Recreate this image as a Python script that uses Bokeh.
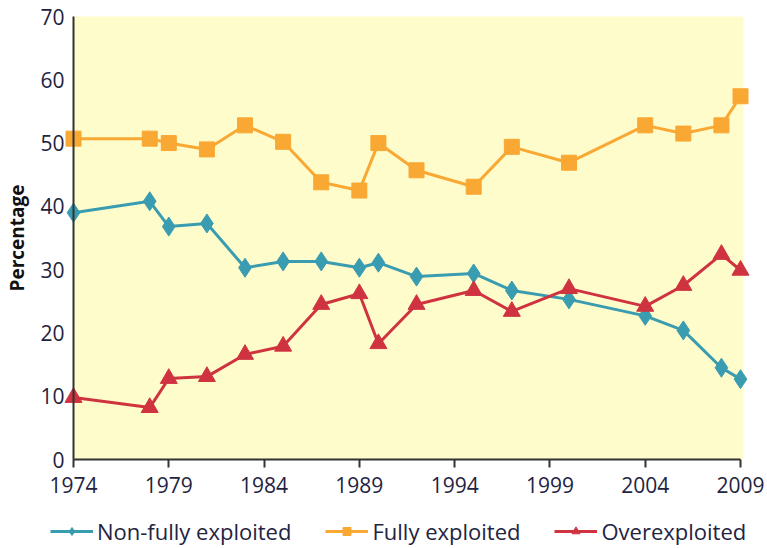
from bokeh.plotting import figure
from bokeh.models import Range1d, FixedTicker, Legend, LegendItem, BoxAnnotation
from bokeh.embed import file_html
from bokeh.resources import INLINE

years = [1974, 1978, 1979, 1981, 1983, 1985, 1987, 1989, 1990, 1992, 1995, 1997, 2000, 2004, 2006, 2008, 2009]
non_fully = [39.0, 40.8, 36.8, 37.3, 30.3, 31.3, 31.3, 30.3, 31.1, 28.9, 29.4, 26.7, 25.3, 22.7, 20.4, 14.5, 12.7]
fully = [50.7, 50.7, 50.0, 49.0, 52.8, 50.2, 43.8, 42.5, 50.0, 45.7, 43.1, 49.4, 46.9, 52.8, 51.5, 52.8, 57.4]
over = [9.8, 8.2, 12.8, 13.1, 16.6, 17.9, 24.5, 26.2, 18.3, 24.5, 26.7, 23.4, 27.0, 24.2, 27.5, 32.4, 29.9]
x_ticks = [1974, 1979, 1984, 1989, 1994, 1999, 2004, 2009]
y_ticks = [0, 10, 20, 30, 40, 50, 60, 70]
x_start, x_end = 1974, 2009
y_start, y_end = 0, 70

# layout (pixels): figure size and where the data box sits inside it
W, H = 767, 548
BOX_L, BOX_R, BOX_T, BOX_B = 73, 740, 16, 459
ppx = (BOX_R - BOX_L) / (x_end - x_start)
ppy = (BOX_B - BOX_T) / (y_end - y_start)
xr = Range1d(x_start - BOX_L / ppx, x_end + (W - BOX_R) / ppx)
yr = Range1d(y_start - (H - BOX_B) / ppy, y_end + BOX_T / ppy)

TEAL = "#3A9CB0"
ORANGE = "#F8A833"
RED = "#CF3340"
TXT = "#23233f"
AX = "#333333"
FONT = "Open Sans"

p = figure(width=W, height=H, output_backend="svg", toolbar_location=None,
           x_range=xr, y_range=yr,
           min_border_left=0, min_border_right=0, min_border_top=0, min_border_bottom=0)
p.background_fill_color = "white"
p.border_fill_color = "white"
p.outline_line_color = None
p.xgrid.visible = False
p.ygrid.visible = False

p.add_layout(BoxAnnotation(left=x_start, right=x_end + 0.16, bottom=y_start, top=y_end,
                           fill_color="#FFFCCB", fill_alpha=1, line_color=None, level="underlay"))

for ax in (p.xaxis[0], p.yaxis[0]):
    ax.major_label_text_font = FONT
    ax.major_label_text_font_size = "21px"
    ax.major_label_text_color = TXT
    ax.minor_tick_line_color = None
    ax.axis_line_color = AX
    ax.axis_line_width = 2

p.xaxis.ticker = FixedTicker(ticks=x_ticks)
p.xaxis.bounds = (x_start, x_end)
p.xaxis.fixed_location = y_start
p.xaxis.major_tick_line_color = AX
p.xaxis.major_tick_line_width = 2
p.xaxis.major_tick_in = 0
p.xaxis.major_tick_out = 8
p.xaxis.major_label_standoff = 9

p.yaxis.ticker = FixedTicker(ticks=y_ticks)
p.yaxis.bounds = (y_start, y_end)
p.yaxis.fixed_location = x_start
p.yaxis.major_tick_line_color = None
p.yaxis.major_tick_in = 0
p.yaxis.major_tick_out = 0
p.yaxis.major_label_standoff = 9
p.yaxis.axis_label = "Percentage"
p.yaxis.axis_label_text_font = FONT
p.yaxis.axis_label_text_font_size = "19px"
p.yaxis.axis_label_text_font_style = "bold"
p.yaxis.axis_label_text_color = "#111111"
p.yaxis.axis_label_standoff = 7

l1 = p.line(years, non_fully, line_color=TEAL, line_width=3)
m1 = p.scatter(years, non_fully, marker="diamond", size=19, fill_color=TEAL, line_color=TEAL)
l2 = p.line(years, fully, line_color=ORANGE, line_width=3)
m2 = p.scatter(years, fully, marker="square", size=15, fill_color=ORANGE, line_color=ORANGE)
l3 = p.line(years, over, line_color=RED, line_width=3)
m3 = p.scatter(years, over, marker="triangle", size=17, fill_color=RED, line_color=RED)

legend = Legend(items=[
    LegendItem(label="Non-fully exploited", renderers=[l1, m1]),
    LegendItem(label="Fully exploited", renderers=[l2, m2]),
    LegendItem(label="Overexploited", renderers=[l3, m3]),
], orientation="horizontal", location=(50, 2), padding=0, margin=0, spacing=34,
    glyph_width=43, glyph_height=20, label_height=20, label_standoff=4,
    label_text_font=FONT, label_text_font_size="22px", label_text_color=TXT,
    border_line_color=None, background_fill_alpha=0)
p.add_layout(legend, "center")

open("out.html", "w").write(file_html(p, INLINE))
